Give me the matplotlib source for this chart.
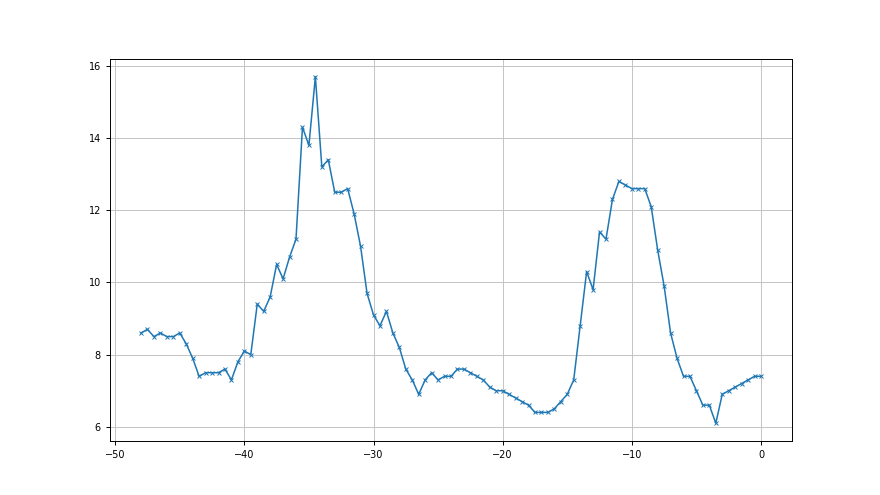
import matplotlib
matplotlib.use("Agg")
import matplotlib.pyplot as plt
import numpy as np

x = np.arange(-48, 0.5, 0.5)
values = [
    8.6, 8.7, 8.5, 8.6, 8.5, 8.5, 8.6, 8.3, 7.9, 7.4,
    7.5, 7.5, 7.5, 7.6, 7.3, 7.8, 8.1, 8.0, 9.4, 9.2,
    9.6, 10.5, 10.1, 10.7, 11.2, 14.3, 13.8, 15.7, 13.2, 13.4,
    12.5, 12.5, 12.6, 11.9, 11.0, 9.7, 9.1, 8.8, 9.2, 8.6,
    8.2, 7.6, 7.3, 6.9, 7.3, 7.5, 7.3, 7.4, 7.4, 7.6,
    7.6, 7.5, 7.4, 7.3, 7.1, 7.0, 7.0, 6.9, 6.8, 6.7,
    6.6, 6.4, 6.4, 6.4, 6.5, 6.7, 6.9, 7.3, 8.8, 10.3,
    9.8, 11.4, 11.2, 12.3, 12.8, 12.7, 12.6, 12.6, 12.6, 12.1,
    10.9, 9.9, 8.6, 7.9, 7.4, 7.4, 7.0, 6.6, 6.6, 6.1,
    6.9, 7.0, 7.1, 7.2, 7.3, 7.4, 7.4,
]

plt.rcParams['font.size'] = 7
fig = plt.figure(figsize=(8.8, 4.95), dpi=100)
plt.plot(x, values, marker='x', markersize=3.5, markeredgewidth=0.7,
         linewidth=1.1, color='tab:blue')
plt.grid(True, linewidth=0.7, color='#c4c4c4')
plt.tick_params(length=3, width=0.7)
for s in plt.gca().spines.values():
    s.set_linewidth(0.7)
plt.savefig("out.png", dpi=100)
